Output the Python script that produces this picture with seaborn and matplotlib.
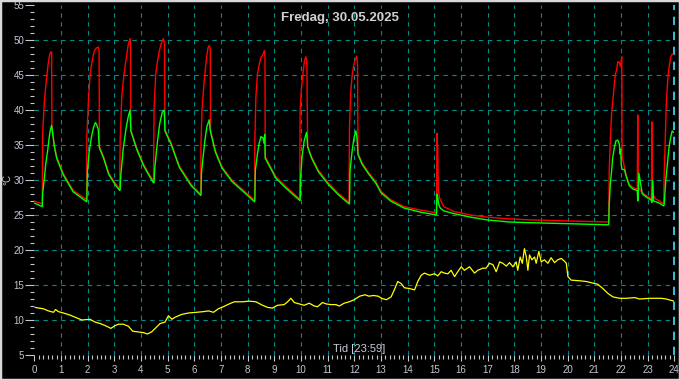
import matplotlib
matplotlib.use("Agg")
import matplotlib.pyplot as plt
from matplotlib.patches import Rectangle
from matplotlib.ticker import MultipleLocator
import pandas as pd
import seaborn as sns

# Vorlauf (rot) - Zeit in Stunden, Temperatur in °C
rot_zeit = [0.00, 0.20, 0.30, 0.31, 0.38, 0.45, 0.52, 0.58, 0.63, 0.65, 0.66, 0.75, 0.84, 1.09, 1.46, 1.96,
            1.97, 2.03, 2.09, 2.15, 2.24, 2.31, 2.40, 2.43, 2.44, 2.60, 2.79, 3.04, 3.20,
            3.22, 3.28, 3.36, 3.45, 3.52, 3.59, 3.61, 3.62, 3.84, 4.09, 4.28, 4.47,
            4.49, 4.55, 4.62, 4.68, 4.76, 4.84, 4.88, 4.90, 5.13, 5.44, 5.88, 6.24,
            6.25, 6.29, 6.36, 6.42, 6.47, 6.52, 6.57, 6.60, 6.61, 6.79, 7.04, 7.41, 7.79, 8.23, 8.26,
            8.27, 8.31, 8.37, 8.44, 8.50, 8.56, 8.63, 8.65, 8.66, 8.86, 9.05, 9.42, 9.95,
            9.97, 10.01, 10.07, 10.13, 10.18, 10.22, 10.25, 10.40, 10.65, 11.02, 11.40, 11.80,
            11.82, 11.86, 11.92, 11.98, 12.03, 12.09, 12.12, 12.14, 12.30, 12.55, 12.80, 13.00, 13.36,
            13.86, 14.49, 15.08, 15.10, 15.13, 15.15, 15.20, 15.35, 15.73, 16.35, 16.98, 17.60,
            18.60, 19.60, 20.50, 21.54,
            21.56, 21.60, 21.65, 21.69, 21.75, 21.79, 21.84, 21.88, 21.94, 21.98, 22.03, 22.04,
            22.13, 22.19, 22.31, 22.45, 22.61, 22.63, 22.65, 22.80, 22.94, 23.14, 23.16, 23.18,
            23.30, 23.44, 23.60,
            23.62, 23.66, 23.70, 23.75, 23.80, 23.86, 23.92, 23.98]
rot_temp = [27.0, 26.7, 26.6, 36.3, 41.4, 44.2, 46.6, 48.0, 48.3, 48.3, 37.8, 35.0, 33.3, 30.9, 28.5, 27.2,
            36.2, 41.3, 45.0, 46.6, 48.3, 48.8, 49.0, 48.5, 34.8, 33.3, 31.0, 29.5, 28.7,
            35.7, 41.9, 45.0, 47.4, 49.3, 50.2, 49.5, 37.1, 34.6, 32.3, 31.0, 29.8,
            40.0, 45.0, 47.0, 48.3, 49.5, 50.2, 49.6, 37.2, 35.3, 32.0, 29.4, 28.0,
            35.1, 40.0, 43.7, 46.1, 47.8, 49.0, 49.2, 48.5, 37.1, 34.2, 31.9, 30.0, 28.7, 27.2, 27.1,
            35.7, 41.9, 45.2, 46.6, 47.5, 47.8, 48.5, 47.5, 33.3, 31.9, 30.5, 29.1, 27.3,
            40.0, 42.8, 45.0, 47.0, 47.6, 47.0, 34.9, 33.3, 31.4, 29.6, 28.1, 26.8,
            37.6, 42.2, 45.0, 46.4, 47.1, 47.7, 46.5, 33.8, 32.4, 31.0, 29.8, 28.4, 27.2,
            26.2, 25.7, 25.3, 36.7, 34.3, 28.6, 27.4, 26.2, 25.5, 25.0, 24.7, 24.5,
            24.3, 24.2, 24.1, 24.0,
            31.4, 35.6, 39.6, 41.0, 43.7, 45.1, 45.8, 46.9, 46.8, 46.2, 47.6, 33.5,
            31.8, 30.8, 29.4, 28.9, 28.7, 39.3, 28.9, 28.2, 27.8, 27.3, 38.3, 28.0,
            27.3, 27.0, 26.6,
            30.6, 35.6, 40.8, 44.1, 46.0, 47.5, 48.0, 47.9]

# Rücklauf (grün)
gruen_zeit = [0.00, 0.30, 0.31, 0.37, 0.43, 0.50, 0.56, 0.60, 0.65, 0.75, 0.84, 1.09, 1.46, 1.96,
              1.97, 1.99, 2.05, 2.14, 2.22, 2.29, 2.33, 2.40, 2.42, 2.44, 2.60, 2.79, 3.04, 3.20,
              3.22, 3.24, 3.33, 3.43, 3.52, 3.59, 3.62, 3.84, 4.09, 4.28, 4.47,
              4.49, 4.51, 4.61, 4.70, 4.80, 4.87, 4.90, 5.13, 5.44, 5.88, 6.24,
              6.25, 6.27, 6.33, 6.40, 6.47, 6.56, 6.60, 6.79, 7.04, 7.41, 7.79, 8.23, 8.26,
              8.27, 8.29, 8.37, 8.43, 8.50, 8.58, 8.62, 8.64, 8.66, 8.86, 9.05, 9.42, 9.95,
              9.97, 9.99, 10.04, 10.12, 10.21, 10.24, 10.25, 10.40, 10.65, 11.02, 11.40, 11.80,
              11.82, 11.84, 11.92, 11.99, 12.06, 12.10, 12.14, 12.30, 12.55, 12.80, 13.00, 13.36,
              13.86, 14.49, 15.08, 15.10, 15.13, 15.16, 15.22, 15.35, 15.73, 16.35, 16.98, 17.80,
              18.60, 19.60, 20.50, 21.54,
              21.56, 21.60, 21.65, 21.69, 21.75, 21.81, 21.88, 21.94, 21.97, 21.99, 22.01, 22.04,
              22.13, 22.19, 22.31, 22.45, 22.61, 22.63, 22.65, 22.67, 22.80, 22.94, 23.14, 23.16,
              23.19, 23.22, 23.30, 23.44, 23.60,
              23.62, 23.68, 23.74, 23.80, 23.86, 23.92, 23.98]
gruen_temp = [26.7, 26.2, 28.0, 30.0, 32.3, 34.2, 36.1, 37.1, 37.8, 34.8, 33.1, 30.7, 28.3, 26.9,
              27.0, 31.0, 33.8, 36.1, 37.5, 38.2, 38.0, 37.2, 35.5, 34.6, 33.1, 30.8, 29.3, 28.5,
              28.6, 30.5, 34.3, 37.1, 39.0, 40.0, 37.0, 34.4, 32.1, 30.8, 29.6,
              29.6, 31.4, 35.2, 38.0, 39.7, 40.0, 37.0, 35.1, 31.8, 29.2, 27.8,
              27.9, 31.0, 33.3, 35.7, 37.6, 38.6, 37.0, 34.0, 31.7, 29.8, 28.5, 27.0, 26.9,
              27.0, 31.4, 33.8, 35.2, 36.2, 36.0, 35.2, 36.5, 33.1, 31.7, 30.3, 28.9, 27.1,
              27.1, 30.5, 33.3, 35.6, 36.8, 35.5, 34.7, 33.1, 31.2, 29.4, 27.9, 26.6,
              26.6, 31.4, 34.2, 36.1, 37.0, 36.0, 33.6, 32.2, 30.8, 29.6, 28.2, 27.0,
              26.0, 25.4, 25.0, 28.0, 27.5, 26.6, 26.0, 25.6, 25.2, 24.7, 24.3, 24.0,
              23.9, 23.8, 23.7, 23.6,
              26.5, 29.4, 31.3, 33.2, 34.6, 35.6, 35.7, 35.1, 33.7, 34.4, 32.2, 31.5,
              31.5, 30.6, 29.2, 28.7, 28.5, 27.0, 28.3, 31.0, 28.0, 27.6, 27.1, 26.8,
              30.0, 27.0, 26.9, 26.7, 26.3,
              26.5, 29.9, 32.2, 34.6, 36.0, 37.0, 36.8]

# Außentemperatur (gelb)
gelb_zeit = [0.03, 0.34, 0.53, 0.72, 0.80, 0.90, 1.09, 1.34, 1.59, 1.78, 2.09, 2.28, 2.47, 2.72, 2.87,
             3.03, 3.16, 3.34, 3.53, 3.69, 3.90, 4.09, 4.24, 4.40, 4.59, 4.72, 4.90, 5.03, 5.16, 5.28,
             5.53, 5.78, 6.09, 6.35, 6.53, 6.72, 6.90, 7.09, 7.31, 7.50, 7.81, 8.06, 8.31, 8.56, 8.75,
             8.93, 9.12, 9.37, 9.50, 9.62, 9.75, 9.94, 10.12, 10.31, 10.50, 10.62, 10.81, 10.94, 11.12,
             11.31, 11.44, 11.62, 11.81, 12.00, 12.20, 12.40, 12.55, 12.72, 12.90, 13.02, 13.20, 13.38,
             13.50, 13.63, 13.76, 13.88, 14.07, 14.26, 14.38, 14.51, 14.63, 14.82, 15.01, 15.13, 15.26,
             15.38, 15.51, 15.63, 15.76, 15.88, 16.01, 16.13, 16.32, 16.51, 16.63, 16.82, 16.94, 17.07,
             17.20, 17.32, 17.45, 17.57, 17.70, 17.82, 17.95, 18.07, 18.13, 18.22, 18.30, 18.38, 18.45,
             18.51, 18.57, 18.66, 18.76, 18.82, 18.92, 19.01, 19.13, 19.26, 19.38, 19.51, 19.63, 19.76,
             19.88, 19.95, 20.01, 20.13, 20.45, 20.70, 21.01, 21.13, 21.32, 21.51, 21.70, 21.95, 22.20,
             22.51, 22.70, 23.07, 23.51, 23.70, 23.98]
gelb_temp = [11.8, 11.6, 11.3, 11.1, 11.5, 11.2, 11.0, 10.7, 10.3, 10.0, 10.1, 9.7, 9.5, 9.1, 8.8,
             9.2, 9.4, 9.4, 9.1, 8.4, 8.3, 8.2, 8.0, 8.3, 9.0, 9.5, 9.7, 10.6, 10.1, 10.4,
             10.8, 11.0, 11.1, 11.2, 11.3, 11.1, 11.6, 11.9, 12.3, 12.6, 12.6, 12.7, 12.6, 12.1, 11.8,
             11.7, 12.1, 12.2, 12.6, 13.1, 12.5, 12.3, 12.1, 12.4, 12.0, 11.9, 12.5, 12.3, 12.2,
             12.2, 12.0, 12.4, 12.6, 12.9, 13.4, 13.6, 13.4, 13.5, 13.4, 13.1, 12.9, 13.3,
             14.3, 15.5, 15.2, 14.6, 14.5, 14.3, 15.5, 16.4, 16.7, 16.4, 16.6, 16.3, 16.9,
             16.7, 16.6, 17.1, 16.2, 16.9, 17.6, 17.1, 17.6, 16.7, 17.1, 17.4, 17.4, 18.1,
             17.9, 16.9, 18.3, 18.1, 17.7, 18.2, 17.6, 18.3, 17.1, 19.0, 18.1, 20.2, 19.0,
             17.1, 19.3, 18.6, 19.0, 18.1, 19.8, 18.3, 18.6, 18.1, 18.9, 18.2, 18.6, 18.8,
             18.4, 18.1, 16.2, 15.7, 15.6, 15.5, 15.2, 15.1, 14.5, 13.8, 13.3, 13.1, 13.1,
             13.2, 13.0, 13.1, 13.1, 13.0, 12.7]

titel = "Fredag, 30.05.2025"
x_titel = "Tid [23:59]"

df_rot = pd.DataFrame({"Tid": rot_zeit, "Temp": rot_temp})
df_gruen = pd.DataFrame({"Tid": gruen_zeit, "Temp": gruen_temp})
df_gelb = pd.DataFrame({"Tid": gelb_zeit, "Temp": gelb_temp})

sns.set_style("dark")
plt.rcParams["font.family"] = ["Liberation Sans", "DejaVu Sans"]

W, H = 680, 380
fig = plt.figure(figsize=(W / 100, H / 100), dpi=100, facecolor="black")
ax = fig.add_axes([34.3 / W, 25 / H, 640 / W, 350 / H], facecolor="black")

gitter = "#008b8b"
for h in range(1, 24):
    ax.axvline(h, color=gitter, lw=0.8, ls=(0, (4, 4)), zorder=1)
for t in range(10, 55, 5):
    ax.axhline(t, color=gitter, lw=0.8, ls=(0, (4, 4)), zorder=1)
ax.axvline(24, color="#40e0ff", lw=1.2, ls=(0, (5, 4)), zorder=1, clip_on=False)

sns.lineplot(data=df_rot, x="Tid", y="Temp", color="#ff0000", lw=1.0,
             estimator=None, sort=False, ax=ax, zorder=3)
sns.lineplot(data=df_gruen, x="Tid", y="Temp", color="#00ff00", lw=1.0,
             estimator=None, sort=False, ax=ax, zorder=4)
sns.lineplot(data=df_gelb, x="Tid", y="Temp", color="#ffff00", lw=0.9,
             estimator=None, sort=False, ax=ax, zorder=3)

ax.set_xlim(0, 24)
ax.set_ylim(5, 55)
ax.xaxis.set_major_locator(MultipleLocator(1))
ax.xaxis.set_minor_locator(MultipleLocator(1 / 6))
ax.yaxis.set_major_locator(MultipleLocator(5))
ax.yaxis.set_minor_locator(MultipleLocator(1))
ax.grid(False)
for s in ax.spines.values():
    s.set_visible(False)

tick_farbe = "#c8c8c8"
label_farbe = "#c0c8d4"
ax.tick_params(axis="y", which="major", length=6.5, width=0.8, color=tick_farbe,
               labelcolor=label_farbe, labelsize=7, pad=0.8, left=True)
ax.tick_params(axis="y", which="minor", length=3, width=0.8, color=tick_farbe, left=True)
ax.tick_params(axis="x", which="major", length=4, width=0.8, color=tick_farbe,
               labelcolor=label_farbe, labelsize=7, pad=3, bottom=True)
ax.tick_params(axis="x", which="minor", length=3, width=0.8, color=tick_farbe, bottom=True)
ax.set_xlabel("")
ax.set_ylabel("")

fig.text(0.5, 1 - 18 / H, titel, ha="center", va="center", fontsize=9.5,
         fontweight="bold", color="#d0d0d0")
fig.text(359 / W, 1 - 349 / H, x_titel, ha="center", va="center", fontsize=8,
         color="#c8ccd4")
fig.text(7 / W, 1 - 180 / H, "°C", ha="center", va="center", rotation=90,
         fontsize=7, color="#c8ccd4")

fig.patches.append(Rectangle((0, 0), 1, 1, transform=fig.transFigure, fill=False,
                             edgecolor="#d8d8d8", lw=2.5, zorder=10))

fig.savefig("out.png", dpi=100, facecolor="black")
